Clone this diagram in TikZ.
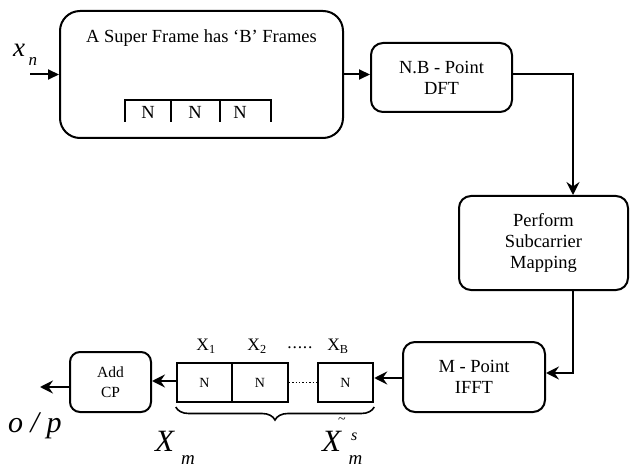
\documentclass[tikz,border=0pt]{standalone}
\usepackage{fontspec}
\setmainfont{Liberation Serif}
\usetikzlibrary{arrows.meta,decorations.pathreplacing}

\tikzset{
  blk/.style={draw, line width=2pt, rounded corners=12pt, align=center,
    inner sep=0pt, font=\fontsize{18.5}{21}\selectfont},
  cell/.style={draw, line width=2pt, minimum width=55.5pt, minimum height=39pt,
    inner sep=0pt, font=\fontsize{14}{16}\selectfont},
  flowT/.style={line width=2pt, -{Triangle[length=11pt,width=10pt]}},
  flowS/.style={line width=2pt, -{Stealth[length=13pt,width=13pt,inset=4.5pt]}},
  lbl/.style={inner sep=0pt},
  mathit/.style={inner sep=0pt, anchor=base west}
}

\begin{document}
\begin{tikzpicture}[x=1pt,y=-1pt]
\useasboundingbox (0,0) rectangle (630,468);

% super frame block
\node[blk, rounded corners=20pt, minimum width=283pt, minimum height=127pt] (sf) at (201.5,74.5) {};
\node[lbl, font=\fontsize{18.5}{21}\selectfont] (sftitle) at (201.5,38) {A Super Frame has ‘B’ Frames};
\draw[line width=2pt] (125,122) -- (125,100) -- (271,100) -- (271,122);
\draw[line width=2pt] (171,100) -- (171,122);
\draw[line width=2pt] (220,100) -- (220,122);
\node[lbl, font=\fontsize{18.5}{21}\selectfont] (fa) at (148,112) {N};
\node[lbl, font=\fontsize{18.5}{21}\selectfont] (fb) at (195,112) {N};
\node[lbl, font=\fontsize{18.5}{21}\selectfont] (fc) at (240,112) {N};

% processing blocks
\node[blk, minimum width=141pt, minimum height=69pt] (dft) at (441.5,77.5) {N.B - Point\\DFT};
\node[blk, minimum width=169pt, minimum height=94pt] (pm) at (543.5,243) {Perform\\Subcarrier\\Mapping};
\node[blk, minimum width=142pt, minimum height=70pt] (ifft) at (474,377) {M - Point\\IFFT};
\node[blk, rounded corners=10pt, minimum width=81pt, minimum height=60pt,
      font=\fontsize{15.5}{20}\selectfont] (acp) at (110.5,382) {Add\\CP};

% output frame cells
\node[cell] (n1) at (204.5,382.5) {N};
\node[cell] (n2) at (260,382.5) {N};
\node[cell] (nB) at (345.5,382.5) {N};
\draw[line width=1.4pt, dotted] (n2.east) -- (nB.west);

\node[lbl, font=\fontsize{17.5}{20}\selectfont] (x1) at (206,346) {X\textsubscript{1}};
\node[lbl, font=\fontsize{17.5}{20}\selectfont] (x2) at (257,346) {X\textsubscript{2}};
\node[lbl, font=\fontsize{17.5}{20}\selectfont] (xd) at (300,348)
  {.\hspace{0.8pt}.\hspace{0.8pt}.\hspace{0.8pt}.\hspace{0.8pt}.};
\node[lbl, font=\fontsize{17.5}{20}\selectfont] (xB) at (338,346) {X\textsubscript{B}};

\draw[line width=1.6pt, decorate, decoration={brace, mirror, amplitude=13pt}]
  ([yshift=-4pt]n1.south west) -- ([yshift=-4pt]nB.south east);

% connectors
\coordinate (in) at (30,74.5);
\coordinate (out) at (40,387);
\coordinate (bend) at (573,74.5);
\draw[flowT] (in) -- (sf.west);
\draw[flowT] (sf.east) -- (sf.east -| dft.west);
\draw[flowS] (dft.east |- sf.east) -- (bend) -- (bend |- pm.north);
\draw[flowS] (bend |- pm.south) |- ([yshift=4pt]ifft.east);
\draw[flowS] ([yshift=-1pt]ifft.west) -- ([yshift=-1pt]ifft.west -| nB.east);
\draw[flowS] ([yshift=1.5pt]n1.west) -- ([yshift=1.5pt]n1.west -| acp.east);
\draw[flowS] ([yshift=-5pt]acp.west) -- (out);

% signal labels
\node[mathit] (xn) at (13,57) {\fontsize{27}{27}\selectfont\itshape x};
\node[mathit] (xnsub) at (28.5,66) {\fontsize{17}{17}\selectfont\itshape n};
\node[mathit] (op) at (8,432) {\fontsize{30}{30}\selectfont\itshape o / p};
\node[mathit] (xm) at (155,451) {\fontsize{31}{31}\selectfont\itshape X};
\node[mathit] (xmsub) at (181,464) {\fontsize{19}{19}\selectfont\itshape m};
\node[mathit] (xs) at (322,451) {\fontsize{31}{31}\selectfont\itshape X};
\node[mathit] (xssup) at (351,440) {\fontsize{16}{16}\selectfont\itshape s};
\node[mathit] (xssub) at (348.5,464) {\fontsize{19}{19}\selectfont\itshape m};
\node[lbl] (xstl) at (342,421) {\fontsize{14}{14}\selectfont\textasciitilde};
\end{tikzpicture}
\end{document}
